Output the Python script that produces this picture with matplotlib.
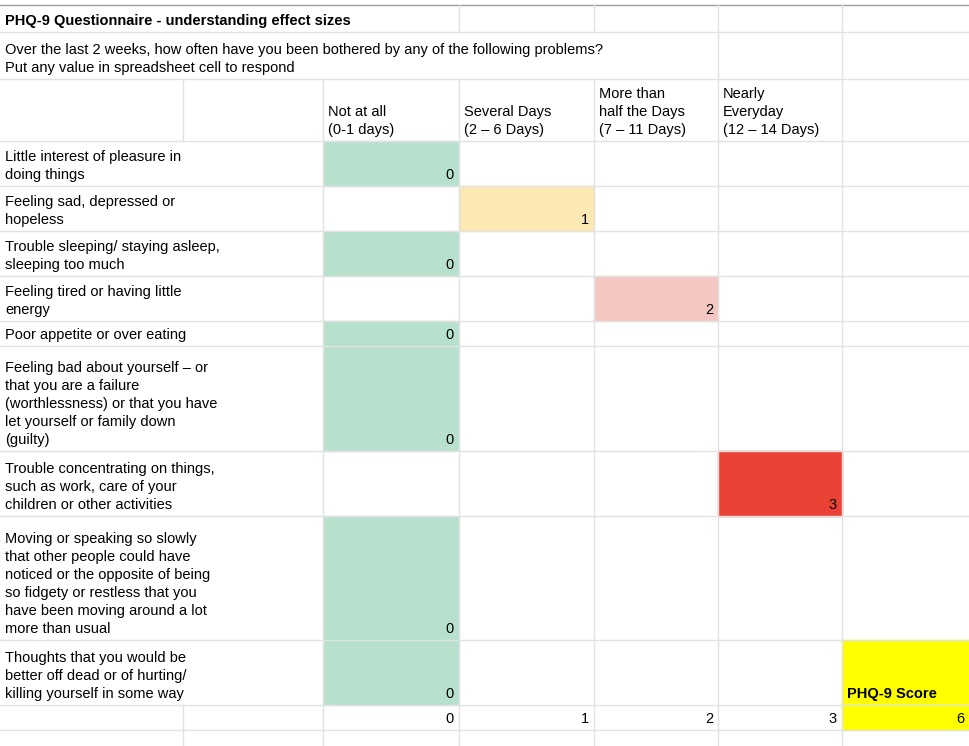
import matplotlib.pyplot as plt
from matplotlib.patches import Rectangle

plt.rcParams['font.family'] = ['Liberation Sans', 'DejaVu Sans']

col_edges = [0, 183, 323, 459, 594, 718, 842, 969]
row_edges = [5, 32, 79, 141, 186, 231, 276, 321, 346, 451, 516, 640, 705, 730, 746]

title = "PHQ-9 Questionnaire - understanding effect sizes"
prompt = "Over the last 2 weeks, how often have you been bothered by any of the following problems?\nPut any value in spreadsheet cell to respond"
headers = ["Not at all\n(0-1 days)", "Several Days\n(2 – 6 Days)",
           "More than\nhalf the Days\n(7 – 11 Days)", "Nearly\nEveryday\n(12 – 14 Days)"]
questions = [
    "Little interest of pleasure in\ndoing things",
    "Feeling sad, depressed or\nhopeless",
    "Trouble sleeping/ staying asleep,\nsleeping too much",
    "Feeling tired or having little\nenergy",
    "Poor appetite or over eating",
    "Feeling bad about yourself – or\nthat you are a failure\n(worthlessness) or that you have\nlet yourself or family down\n(guilty)",
    "Trouble concentrating on things,\nsuch as work, care of your\nchildren or other activities",
    "Moving or speaking so slowly\nthat other people could have\nnoticed or the opposite of being\nso fidgety or restless that you\nhave been moving around a lot\nmore than usual",
    "Thoughts that you would be\nbetter off dead or of hurting/\nkilling yourself in some way",
]
answers = [0, 1, 0, 2, 0, 0, 3, 0, 0]
score_levels = [0, 1, 2, 3]
score_colors = ['#b7e1cd', '#fce8b2', '#f4c7c3', '#ea4335']
total = sum(answers)

fig = plt.figure(figsize=(9.69, 7.46), dpi=100)
ax = fig.add_axes([0, 0, 1, 1])
ax.set_xlim(0, 969)
ax.set_ylim(746, 0)
ax.axis('off')

fs = 10.5
ls = 1.37
grid = '#e2e2e2'

def cell_text(r, c, s, ha='left', weight='normal', right_col=None):
    y = row_edges[r + 1] - 4
    if ha == 'left':
        x = col_edges[c] + 5
    else:
        x = col_edges[(right_col if right_col else c) + 1] - 5
    ax.text(x, y, s, ha=ha, va='bottom', fontsize=fs, weight=weight, linespacing=ls)

# fills
for i, a in enumerate(answers):
    r = 3 + i
    c = 2 + a
    ax.add_patch(Rectangle((col_edges[c], row_edges[r]), col_edges[c + 1] - col_edges[c],
                           row_edges[r + 1] - row_edges[r], color=score_colors[a], zorder=0))
ax.add_patch(Rectangle((col_edges[6], row_edges[11]), col_edges[7] - col_edges[6],
                       row_edges[13] - row_edges[11], color='#ffff00', zorder=0))

# horizontal lines
for k, y in enumerate(row_edges[:-1]):
    ax.plot([0, 969], [y, y], color='#9e9e9e' if k == 0 else grid, lw=1, zorder=1)

# vertical lines per row
for r in range(len(row_edges) - 1):
    y0, y1 = row_edges[r], row_edges[r + 1]
    for c, x in enumerate(col_edges[1:-1], start=1):
        if r == 0 and c in (1, 2):
            continue
        if r == 1 and c < 5:
            continue
        if 3 <= r <= 11 and c == 1:
            continue
        ax.plot([x, x], [y0, y1], color=grid, lw=1, zorder=1)

cell_text(0, 0, title, weight='bold')
cell_text(1, 0, prompt)
for j, h in enumerate(headers):
    cell_text(2, 2 + j, h)
for i, (q, a) in enumerate(zip(questions, answers)):
    cell_text(3 + i, 0, q)
    cell_text(3 + i, 2 + a, str(a), ha='right')
cell_text(11, 6, "PHQ-9 Score", weight='bold')
for j, v in enumerate(score_levels):
    cell_text(12, 2 + j, str(v), ha='right')
cell_text(12, 6, str(total), ha='right')

fig.savefig('out.png', dpi=100)
